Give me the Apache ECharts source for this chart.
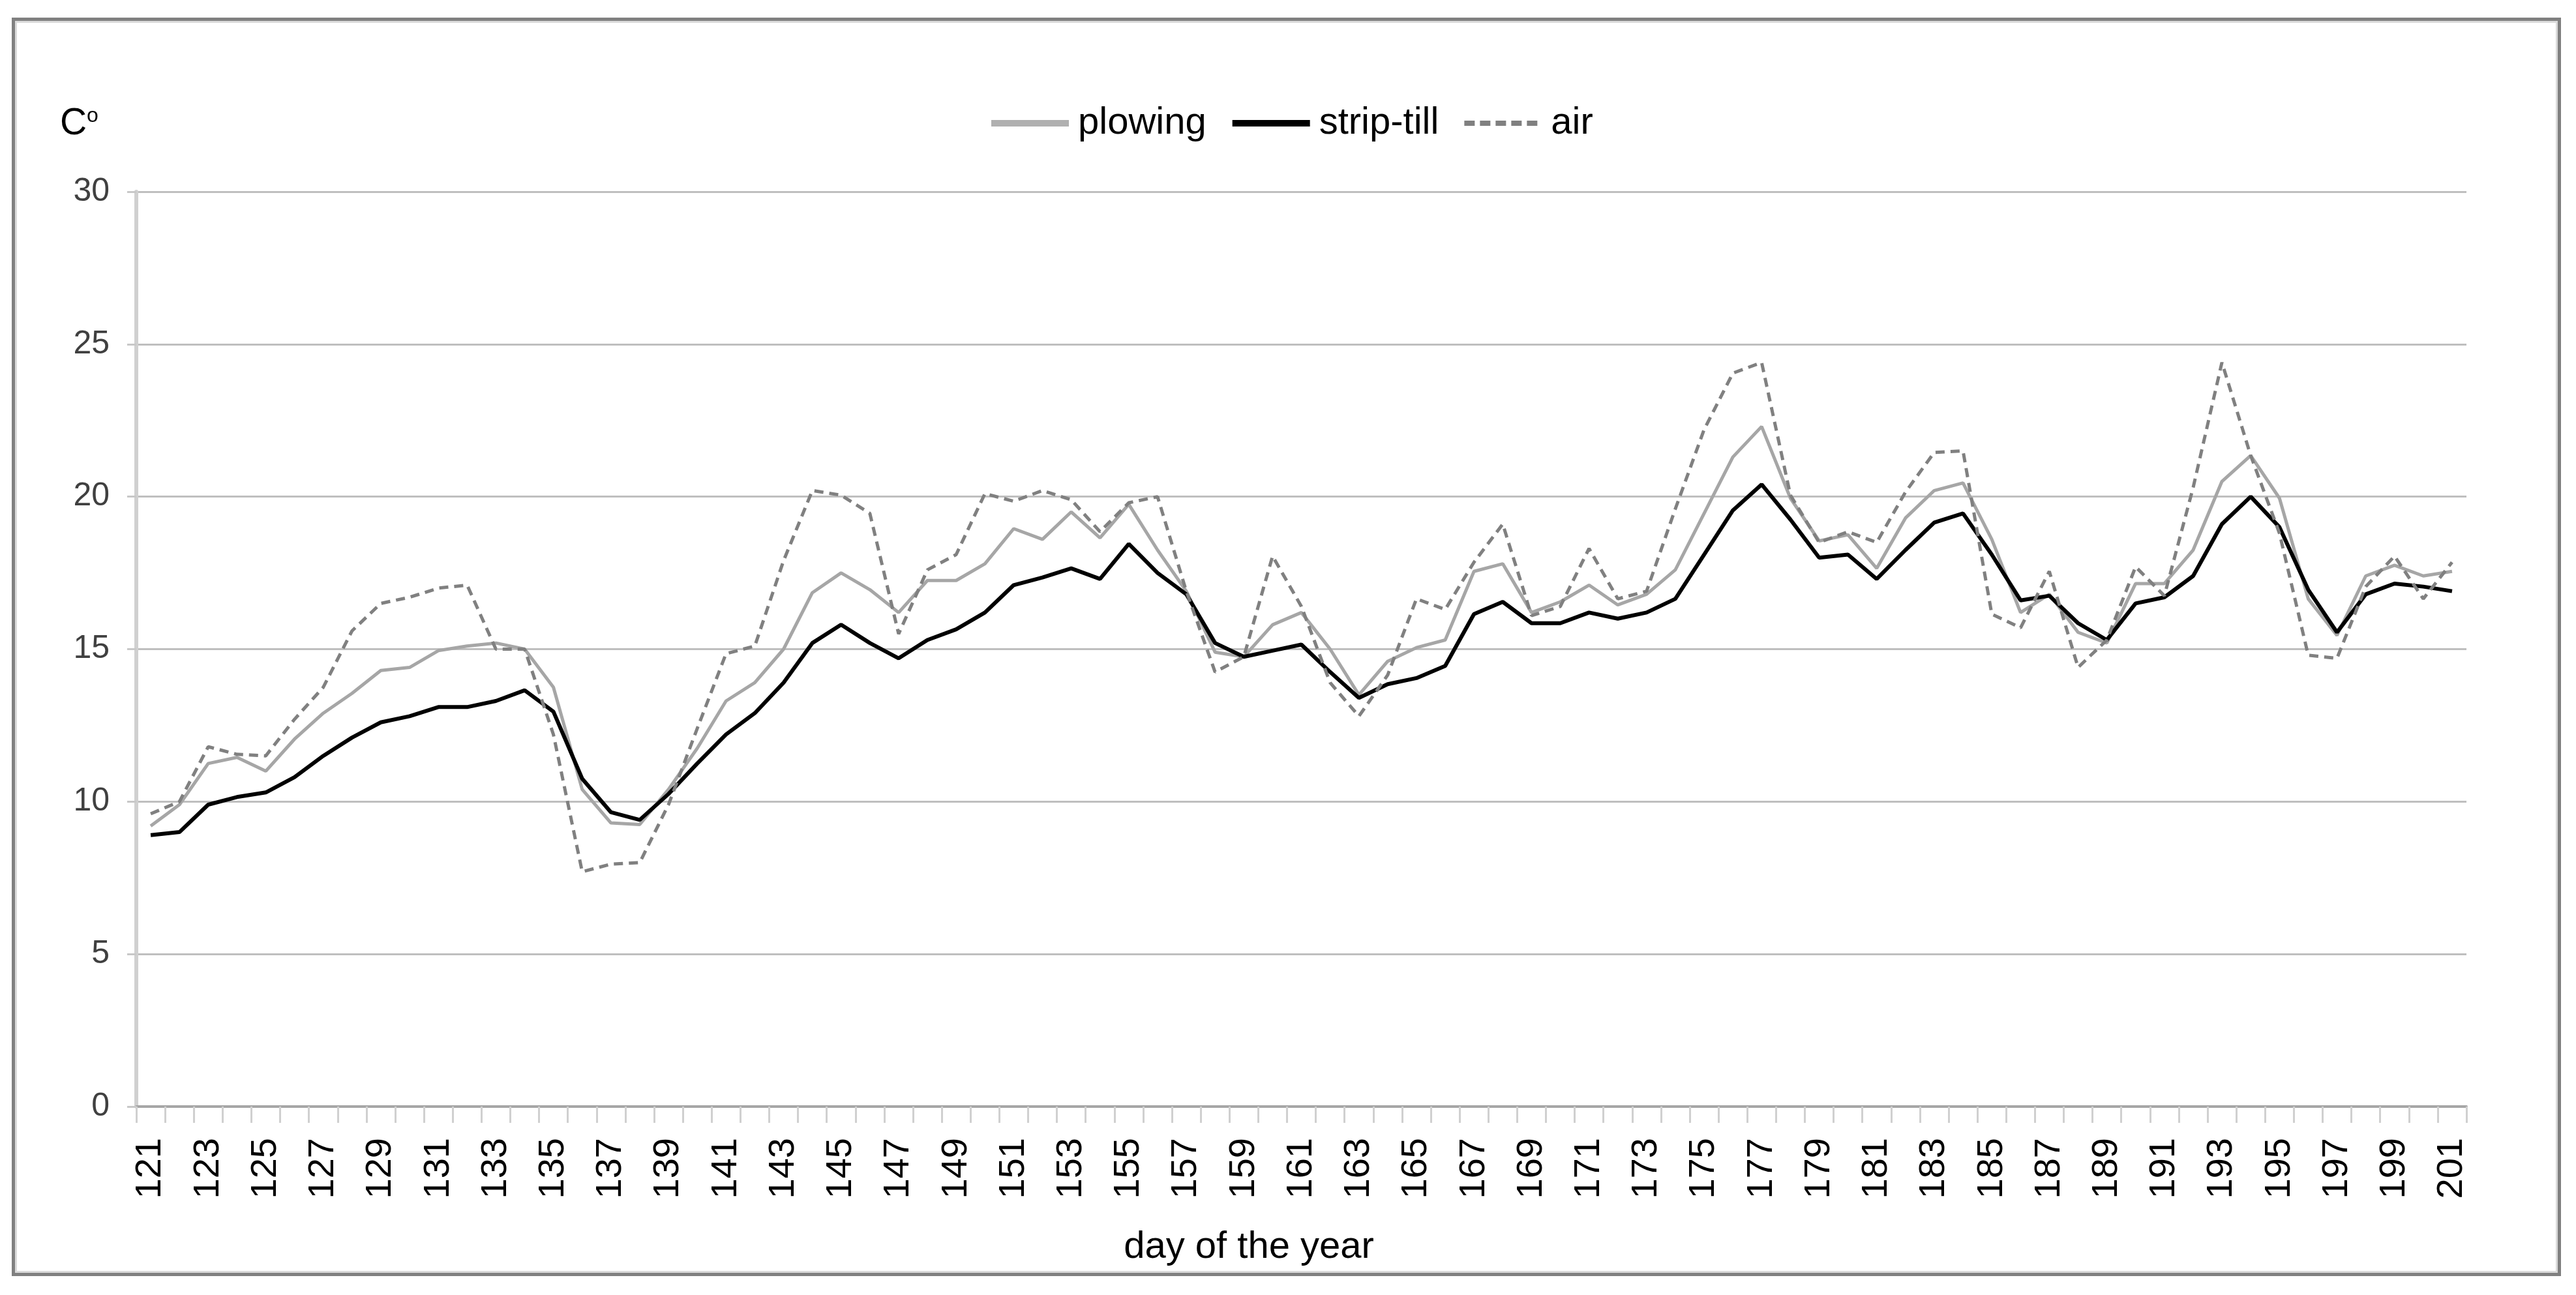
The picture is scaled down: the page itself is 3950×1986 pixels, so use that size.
<!DOCTYPE html>
<html><head><meta charset="utf-8">
<script src="https://cdn.jsdelivr.net/npm/echarts@6/dist/echarts.min.js"></script>
<style>html,body{margin:0;padding:0;background:#fff}#c{width:3950px;height:1986px}</style>
</head><body><div id="c"></div>
<script>
const days = ['121','122','123','124','125','126','127','128','129','130','131','132','133','134','135','136','137','138','139','140',
'141','142','143','144','145','146','147','148','149','150','151','152','153','154','155','156','157','158','159','160',
'161','162','163','164','165','166','167','168','169','170','171','172','173','174','175','176','177','178','179','180',
'181','182','183','184','185','186','187','188','189','190','191','192','193','194','195','196','197','198','199','200','201'];

const plowing = [9.2,9.9,11.25,11.45,11.0,12.05,12.9,13.55,14.3,14.4,14.95,15.1,15.2,15.0,13.75,10.4,9.3,9.25,10.4,11.75,
13.3,13.9,15.0,16.85,17.5,16.95,16.2,17.25,17.25,17.8,18.95,18.6,19.5,18.65,19.75,18.25,16.9,14.9,14.75,15.8,
16.2,15.0,13.5,14.6,15.05,15.3,17.55,17.8,16.2,16.55,17.1,16.45,16.8,17.6,19.45,21.3,22.3,19.95,18.55,18.75,
17.65,19.3,20.2,20.45,18.6,16.2,16.8,15.55,15.2,17.15,17.15,18.25,20.5,21.35,19.95,16.65,15.45,17.4,17.75,17.4,17.55];

const stripTill = [8.9,9.0,9.9,10.15,10.3,10.8,11.5,12.1,12.6,12.8,13.1,13.1,13.3,13.65,12.95,10.75,9.65,9.4,10.25,11.25,
12.2,12.9,13.9,15.2,15.8,15.2,14.7,15.3,15.65,16.2,17.1,17.35,17.65,17.3,18.45,17.5,16.8,15.2,14.75,14.95,
15.15,14.25,13.4,13.85,14.05,14.45,16.15,16.55,15.85,15.85,16.2,16.0,16.2,16.65,18.1,19.55,20.4,19.25,18.0,18.1,
17.3,18.25,19.15,19.45,18.1,16.6,16.75,15.85,15.3,16.5,16.7,17.4,19.1,20.0,19.0,16.95,15.55,16.8,17.15,17.05,16.9];

const air = [9.6,10.0,11.8,11.55,11.5,12.7,13.75,15.6,16.5,16.7,17.0,17.1,15.0,15.0,12.2,7.7,7.95,8.0,9.9,12.4,
14.85,15.1,17.9,20.2,20.05,19.45,15.5,17.6,18.1,20.1,19.85,20.2,19.9,18.85,19.8,20.0,16.9,14.25,14.75,18.05,
16.4,13.9,12.8,14.15,16.65,16.3,17.85,19.1,16.1,16.4,18.3,16.65,16.9,19.6,22.2,24.05,24.4,20.05,18.5,18.85,
18.5,20.15,21.45,21.5,16.15,15.7,17.55,14.4,15.3,17.7,16.75,20.3,24.4,21.35,18.8,14.8,14.7,17.05,18.05,16.65,17.85];

const yTicks = [0, 5, 10, 15, 20, 25, 30];
const seriesNames = ['plowing', 'strip-till', 'air'];
const xTitle = 'day of the year';
const yTitle = 'C';
const yTitleSup = 'o';

const FONT = '"Liberation Sans", Arial, sans-serif';
const chart = echarts.init(document.getElementById('c'), null, {renderer: 'canvas'});
chart.setOption({
  animation: false,
  backgroundColor: '#ffffff',
  textStyle: {fontFamily: FONT},
  grid: {left: 209, right: 168, top: 294, bottom: 289, containLabel: false},
  legend: {
    data: [
      {name: seriesNames[0], lineStyle: {width: 10, color: '#b0b0b0'}},
      {name: seriesNames[1], lineStyle: {width: 10, color: '#000000'}},
      {name: seriesNames[2], lineStyle: {width: 8, color: '#808080', type: [16, 8]}}
    ],
    left: 1510, top: 155,
    itemWidth: 119, itemHeight: 2, itemGap: 35,
    itemStyle: {opacity: 0},
    textStyle: {fontSize: 58, color: '#000', fontFamily: FONT, padding: [0, 0, 0, 9]}
  },
  xAxis: {
    type: 'category',
    data: days,
    boundaryGap: true,
    axisLine: {show: true, lineStyle: {color: '#a6a6a6', width: 4}},
    axisTick: {show: true, interval: 0, length: 25, lineStyle: {color: '#d0d0d0', width: 3}},
    axisLabel: {interval: 1, rotate: 90, fontSize: 56, margin: 48, color: '#000', fontFamily: FONT},
    splitLine: {show: false}
  },
  yAxis: {
    type: 'value',
    min: yTicks[0], max: yTicks[yTicks.length - 1], interval: 5,
    axisLine: {show: true, lineStyle: {color: '#d0d0d0', width: 6}},
    axisTick: {show: true, length: 14, lineStyle: {color: '#c8c8c8', width: 3}},
    axisLabel: {fontSize: 50, margin: 41, color: '#404040', fontFamily: FONT},
    splitLine: {show: true, lineStyle: {color: '#bfbfbf', width: 3}}
  },
  series: [
    {name: seriesNames[0], type: 'line', data: plowing, symbol: 'none', smooth: false,
     lineStyle: {color: '#a6a6a6', width: 5}, itemStyle: {color: '#a6a6a6'}},
    {name: seriesNames[1], type: 'line', data: stripTill, symbol: 'none', smooth: false,
     lineStyle: {color: '#000000', width: 6}, itemStyle: {color: '#000000'}},
    {name: seriesNames[2], type: 'line', data: air, symbol: 'none', smooth: false,
     lineStyle: {color: '#808080', width: 5, type: [14, 9]}, itemStyle: {color: '#808080'}}
  ],
  graphic: [
    {type: 'rect', silent: true, z: -1, shape: {x: 20.5, y: 29.5, width: 3904, height: 1925},
     style: {fill: null, stroke: '#808080', lineWidth: 5}},
    {type: 'rect', silent: true, z: -1, shape: {x: 24.5, y: 33.5, width: 3896, height: 1917},
     style: {fill: null, stroke: '#dadada', lineWidth: 3}},
    {type: 'text', left: 92, top: 162, style: {text: yTitle, font: '57px ' + FONT, fill: '#000'}},
    {type: 'text', left: 133, top: 162, style: {text: yTitleSup, font: '32px ' + FONT, fill: '#000'}},
    {type: 'text', x: 1915, y: 1913, style: {text: xTitle, font: '58px ' + FONT, fill: '#000', textAlign: 'center', align: 'center', textVerticalAlign: 'middle', verticalAlign: 'middle'}}
  ]
});
</script></body></html>
